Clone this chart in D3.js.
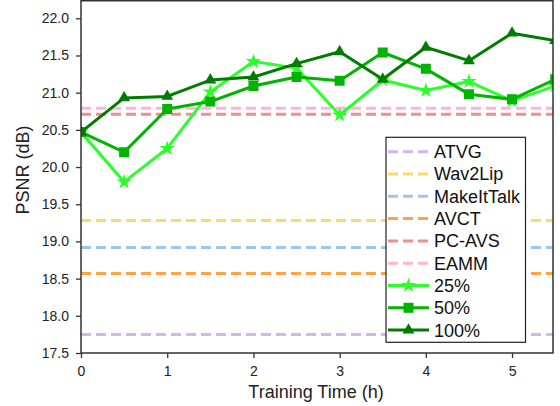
<!DOCTYPE html>
<html>
<head>
<meta charset="utf-8">
<script src="https://cdn.jsdelivr.net/npm/d3@7"></script>
<style>
  html, body { margin: 0; padding: 0; background: #fff; }
  svg { display: block; font-family: "Liberation Sans", Arial, sans-serif; }
</style>
</head>
<body>
<svg id="chart" width="560" height="406"></svg>
<script>
// ---- data ----
const hours = [0, 0.5, 1, 1.5, 2, 2.5, 3, 3.5, 4, 4.5, 5, 5.5];
const psnr25 = [20.47, 19.80, 20.25, 21.01, 21.42, 21.33, 20.70, 21.17, 21.03, 21.15, 20.89, 21.09];
const psnr50 = [20.47, 20.20, 20.78, 20.88, 21.09, 21.21, 21.16, 21.54, 21.32, 20.98, 20.91, 21.18];
const psnr100 = [20.47, 20.93, 20.95, 21.17, 21.21, 21.39, 21.55, 21.18, 21.61, 21.43, 21.80, 21.70];
const baselineNames = ["ATVG", "Wav2Lip", "MakeItTalk", "AVCT", "PC-AVS", "EAMM"];
const baselineValues = [17.75, 19.28, 18.92, 18.57, 20.71, 20.79];
const baselineColors = ["#d7b4ec", "#ffd966", "#9fc5e8", "#ffa347", "#ef8e8e", "#ffb3d9"];
const seriesNames = ["25%", "50%", "100%"];
const seriesColors = ["#2bff2b", "#00b400", "#007c00"];
const xTicks = [0, 1, 2, 3, 4, 5];
const yTicks = [17.5, 18.0, 18.5, 19.0, 19.5, 20.0, 20.5, 21.0, 21.5, 22.0];

// ---- layout ----
const L = 81, R = 553, T = 0.75, B = 353;
const svg = d3.select("#chart");
const x = d3.scaleLinear().domain([0, 5.475]).range([L, R]);
const y = d3.scaleLinear().domain([17.5, 22.25]).range([B, -0.3]);

svg.append("defs").append("clipPath").attr("id", "plotclip")
  .append("rect").attr("x", L).attr("y", T).attr("width", R - L).attr("height", B - T);

const plot = svg.append("g").attr("clip-path", "url(#plotclip)");

// baselines
baselineValues.forEach((v, i) => {
  plot.append("line")
    .attr("x1", L).attr("x2", R)
    .attr("y1", y(v)).attr("y2", y(v))
    .attr("stroke", baselineColors[i])
    .attr("stroke-width", 3)
    .attr("stroke-dasharray", "10,5");
});

const symbols = [d3.symbolStar, d3.symbolSquare, d3.symbolTriangle];
const symSizes = [72, 100, 62];
const seriesData = [psnr25, psnr50, psnr100];

const line = d3.line().x(d => x(d[0])).y(d => y(d[1]));
seriesData.forEach((vals, i) => {
  const pts = hours.map((h, j) => [h, vals[j]]);
  plot.append("path").datum(pts)
    .attr("d", line)
    .attr("fill", "none")
    .attr("stroke", seriesColors[i])
    .attr("stroke-width", 3)
    .attr("stroke-linejoin", "round");
  plot.selectAll(null).data(pts).enter().append("path")
    .attr("transform", d => `translate(${x(d[0])},${y(d[1])})`)
    .attr("d", d3.symbol().type(symbols[i]).size(symSizes[i]))
    .attr("fill", seriesColors[i]);
});

// frame
svg.append("rect")
  .attr("x", L).attr("y", T).attr("width", R - L).attr("height", B - T)
  .attr("fill", "none").attr("stroke", "#333").attr("stroke-width", 1.5);

// axes
const xAxis = svg.append("g").attr("transform", `translate(0,${B})`)
  .call(d3.axisBottom(x).tickValues(xTicks).tickFormat(d3.format("d")).tickSize(5).tickPadding(8));
const yAxis = svg.append("g").attr("transform", `translate(${L},0)`)
  .call(d3.axisLeft(y).tickValues(yTicks).tickFormat(d3.format(".1f")).tickSize(5).tickPadding(7));
[xAxis, yAxis].forEach(a => {
  a.select(".domain").remove();
  a.selectAll(".tick line").attr("stroke", "#333").attr("stroke-width", 1.3);
  a.selectAll(".tick text").attr("fill", "#222").style("font-size", "14px")
    .style("font-family", '"Liberation Sans", Arial, sans-serif');
});

// axis labels
svg.append("text")
  .attr("x", (L + R) / 2 - 1).attr("y", 398)
  .attr("text-anchor", "middle")
  .attr("fill", "#222").style("font-size", "18px")
  .text("Training Time (h)");
svg.append("text")
  .attr("transform", `translate(29,${170}) rotate(-90)`)
  .attr("text-anchor", "middle")
  .attr("fill", "#222").style("font-size", "18px")
  .text("PSNR (dB)");

// legend
const lg = svg.append("g");
lg.append("rect")
  .attr("x", 386).attr("y", 137.3).attr("width", 139.5).attr("height", 205)
  .attr("fill", "#fff").attr("stroke", "#222").attr("stroke-width", 1.2);
const rowY = i => 151.7 + i * 22.3;
baselineNames.forEach((n, i) => {
  lg.append("line")
    .attr("x1", 388).attr("x2", 429)
    .attr("y1", rowY(i)).attr("y2", rowY(i))
    .attr("stroke", baselineColors[i]).attr("stroke-width", 3)
    .attr("stroke-dasharray", "10,5");
  lg.append("text").attr("x", 434).attr("y", rowY(i)).attr("dy", "0.36em")
    .attr("fill", "#111").style("font-size", "18px").text(n);
});
seriesNames.forEach((n, k) => {
  const i = k + baselineNames.length;
  lg.append("line")
    .attr("x1", 388).attr("x2", 429)
    .attr("y1", rowY(i)).attr("y2", rowY(i))
    .attr("stroke", seriesColors[k]).attr("stroke-width", 3);
  lg.append("path")
    .attr("transform", `translate(408.5,${rowY(i)})`)
    .attr("d", d3.symbol().type(symbols[k]).size(symSizes[k]))
    .attr("fill", seriesColors[k]);
  lg.append("text").attr("x", 434).attr("y", rowY(i)).attr("dy", "0.36em")
    .attr("fill", "#111").style("font-size", "18px").text(n);
});
</script>
</body>
</html>
